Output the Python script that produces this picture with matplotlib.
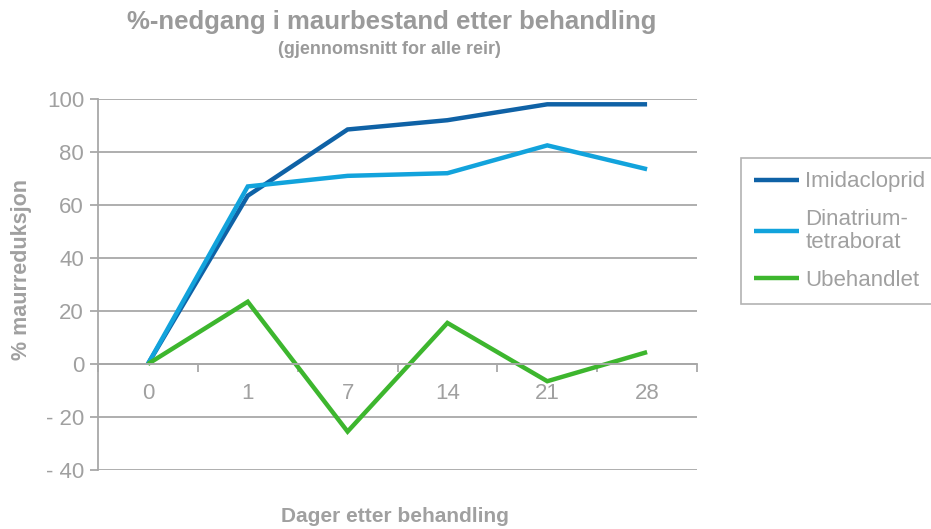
import matplotlib
matplotlib.use("Agg")
import matplotlib.pyplot as plt

days = ["0", "1", "7", "14", "21", "28"]
imidacloprid = [0, 63.5, 88.5, 92, 98, 98]
dinatrium = [0, 67, 71, 72, 82.5, 73.5]
ubehandlet = [0, 23.5, -25.5, 15.5, -6.5, 4.5]
series_names = ["Imidacloprid", "Dinatrium-\ntetraborat", "Ubehandlet"]
y_ticks = [-40, -20, 0, 20, 40, 60, 80, 100]
y_labels = ["- 40", "- 20", "0", "20", "40", "60", "80", "100"]

plt.rcParams['font.family'] = ['Liberation Sans', 'DejaVu Sans']

gray_txt = "#a0a0a0"
grid_c = "#a8a8a8"
colors = ["#0f62a6", "#12a3dc", "#3db62e"]

fig = plt.figure(figsize=(9.31, 5.29), dpi=100)
ax = fig.add_axes([98/931, 1-470/529, (697-98)/931, (470-99)/529])

x = list(range(len(days)))
for vals, name, c in zip([imidacloprid, dinatrium, ubehandlet], series_names, colors):
    ax.plot(x, vals, color=c, lw=3.2, label=name, solid_capstyle='butt', solid_joinstyle='miter')

ax.set_xlim(-0.5, len(days) - 0.5)
ax.set_ylim(-40, 100)
ax.set_yticks(y_ticks)
ax.set_yticklabels(y_labels)
for yv in y_ticks:
    ax.axhline(yv, color=grid_c, lw=1.3, zorder=0)

ax.set_xticks([i - 0.5 for i in range(len(days) + 1)])
ax.set_xticklabels([])
ax.set_xticks(x, minor=True)
ax.set_xticklabels(days, minor=True)
ax.tick_params(axis='x', which='major', length=6, width=1.3, color=grid_c, direction='out')
ax.tick_params(axis='x', which='minor', length=0, pad=14, labelsize=16, labelcolor=gray_txt)
ax.tick_params(axis='y', length=6, width=1.3, color=grid_c, labelsize=16, labelcolor=gray_txt, pad=4)

for s in ['top', 'right']:
    ax.spines[s].set_visible(False)
ax.spines['bottom'].set_position(('data', 0))
ax.spines['bottom'].set_color(grid_c)
ax.spines['bottom'].set_linewidth(1.3)
ax.spines['left'].set_color(grid_c)
ax.spines['left'].set_linewidth(1.3)

fig.text(22/931, 1-270/529, "% maurreduksjon", fontsize=15.5, fontweight='bold', color=gray_txt,
         rotation=90, ha='center', va='center')
fig.text(395/931, 1-517/529, "Dager etter behandling", fontsize=15, fontweight='bold',
         color=gray_txt, ha='center', va='center')

fig.text(392/931, 1-22/529, "%-nedgang i maurbestand etter behandling", fontsize=18.5,
         fontweight='bold', color="#9a9a9a", ha='center', va='center')
fig.text(389/931, 1-50/529, "(gjennomsnitt for alle reir)", fontsize=13,
         fontweight='bold', color="#9a9a9a", ha='center', va='center')

leg = fig.legend(loc='upper left', bbox_to_anchor=(741/931, 1-158/529), frameon=True,
                 fancybox=False, fontsize=16, handlelength=2.0, handletextpad=0.3,
                 borderpad=0.6, labelspacing=0.75, borderaxespad=0)
leg.get_frame().set_edgecolor("#a0a0a0")
leg.get_frame().set_linewidth(1.2)
for t in leg.get_texts():
    t.set_color(gray_txt)
    t.set_linespacing(1.15)

fig.savefig("out.png", dpi=100)
